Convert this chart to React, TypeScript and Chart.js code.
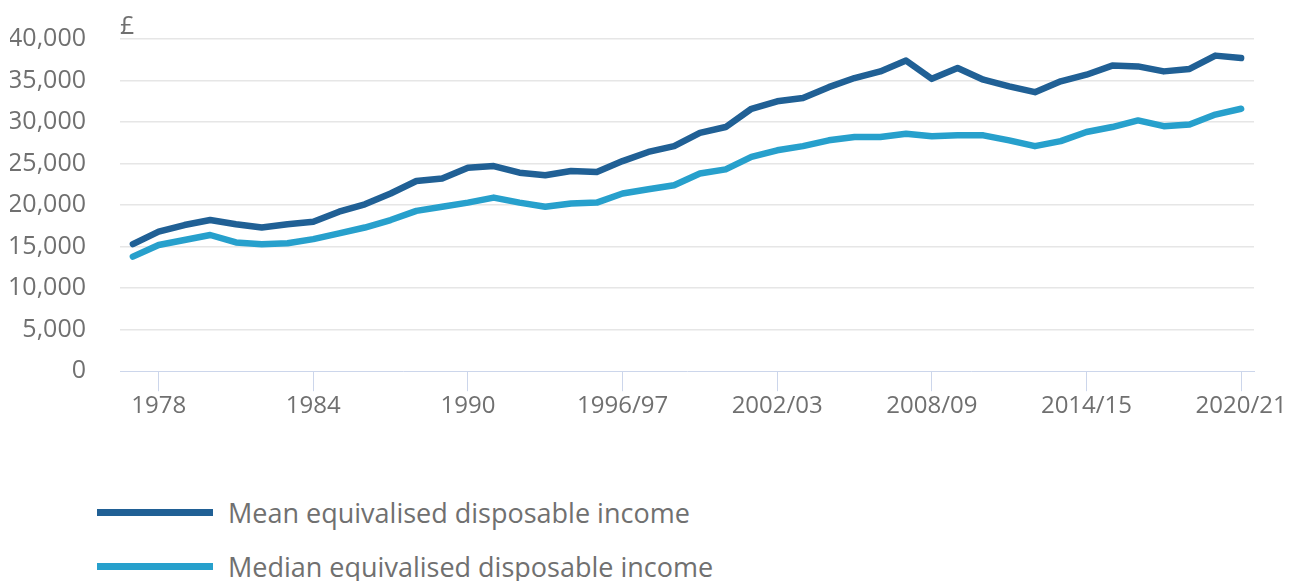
import React, { useEffect, useRef } from "react";
import { Chart, registerables } from "chart.js";

Chart.register(...registerables);

const years: string[] = [
  "1977", "1978", "1979", "1980", "1981", "1982", "1983", "1984", "1985", "1986",
  "1987", "1988", "1989", "1990", "1991", "1992", "1993", "1994/95", "1995/96", "1996/97",
  "1997/98", "1998/99", "1999/00", "2000/01", "2001/02", "2002/03", "2003/04", "2004/05", "2005/06", "2006/07",
  "2007/08", "2008/09", "2009/10", "2010/11", "2011/12", "2012/13", "2013/14", "2014/15", "2015/16", "2016/17",
  "2017/18", "2018/19", "2019/20", "2020/21",
];

const meanIncome: number[] = [
  15300, 16800, 17600, 18200, 17700, 17300, 17700, 18000, 19200, 20100,
  21400, 22900, 23200, 24500, 24700, 23900, 23600, 24100, 24000, 25300,
  26400, 27100, 28700, 29400, 31600, 32500, 32900, 34200, 35300, 36100,
  37400, 35200, 36500, 35100, 34300, 33600, 34900, 35700, 36800, 36700,
  36100, 36400, 38000, 37700,
];

const medianIncome: number[] = [
  13800, 15200, 15800, 16400, 15500, 15300, 15400, 15900, 16600, 17300,
  18200, 19300, 19800, 20300, 20900, 20300, 19800, 20200, 20300, 21400,
  21900, 22400, 23800, 24300, 25800, 26600, 27100, 27800, 28200, 28200,
  28600, 28300, 28400, 28400, 27800, 27100, 27700, 28800, 29400, 30200,
  29500, 29700, 30900, 31600,
];

const shownTicks: string[] = ["1978", "1984", "1990", "1996/97", "2002/03", "2008/09", "2014/15", "2020/21"];

const seriesLabels: string[] = ["Mean equivalised disposable income", "Median equivalised disposable income"];
const seriesColors: string[] = ["#206095", "#27a0cc"];

const FONT = "'Open Sans', sans-serif";
const TEXT = "#707070";

const poundPlugin = {
  id: "poundLabel",
  afterDraw(chart: any) {
    const { ctx, chartArea } = chart;
    ctx.save();
    ctx.font = `25px ${FONT}`;
    ctx.fillStyle = TEXT;
    ctx.textAlign = "left";
    ctx.textBaseline = "alphabetic";
    ctx.fillText("£", chartArea.left, chartArea.top - 5);
    ctx.restore();
  },
};

export default function App() {
  const ref = useRef<HTMLCanvasElement | null>(null);

  useEffect(() => {
    if (!ref.current) return;
    const chart = new Chart(ref.current, {
      type: "line",
      data: {
        labels: years,
        datasets: [
          {
            label: seriesLabels[0],
            data: meanIncome,
            borderColor: seriesColors[0],
            backgroundColor: seriesColors[0],
            borderWidth: 6.5,
            pointRadius: 0,
            tension: 0,
            borderCapStyle: "round",
            borderJoinStyle: "round",
          },
          {
            label: seriesLabels[1],
            data: medianIncome,
            borderColor: seriesColors[1],
            backgroundColor: seriesColors[1],
            borderWidth: 6.5,
            pointRadius: 0,
            tension: 0,
            borderCapStyle: "round",
            borderJoinStyle: "round",
          },
        ],
      },
      options: {
        animation: false,
        responsive: false,
        maintainAspectRatio: false,
        layout: { padding: { top: 31, left: 2, right: 33, bottom: 26 } },
        plugins: {
          legend: { display: false },
          tooltip: { enabled: false },
        },
        scales: {
          x: {
            offset: true,
            grid: {
              display: true,
              drawOnChartArea: false,
              drawTicks: true,
              tickLength: 20,
              color: "#ccd6eb",
              offset: false,
            },
            border: { display: true, color: "#ccd6eb", width: 1 },
            afterFit: (scale: any) => {
              scale.paddingLeft = 0;
              scale.paddingRight = 0;
            },
            ticks: {
              autoSkip: false,
              maxRotation: 0,
              minRotation: 0,
              padding: 1,
              color: TEXT,
              font: { family: FONT, size: 24 },
              callback: function (this: any, value: any) {
                const lab = years[value as number];
                return shownTicks.includes(lab) ? lab : null;
              },
            },
          },
          y: {
            min: 0,
            max: 40000,
            afterFit: (scale: any) => {
              scale.width = 110;
              scale.paddingTop = 0;
            },
            grid: {
              drawTicks: false,
              color: (c: any) => (c.tick && c.tick.value === 0 ? "rgba(0,0,0,0)" : "#e6e6e6"),
              lineWidth: 1.5,
            },
            border: { display: false },
            ticks: {
              stepSize: 5000,
              padding: 34,
              color: TEXT,
              font: { family: FONT, size: 25 },
              callback: (v: any) => Number(v).toLocaleString("en-GB"),
            },
          },
        },
      },
      plugins: [poundPlugin],
    });
    return () => chart.destroy();
  }, []);

  return (
    <div style={{ width: 1279, fontFamily: FONT }}>
      <canvas ref={ref} width={1279} height={440} style={{ display: "block", width: 1279, height: 440 }} />
      <div style={{ marginTop: 37 }}>
        {seriesLabels.map((lab, i) => (
          <div key={lab} style={{ height: 54, display: "flex", alignItems: "center" }}>
            <span
              style={{
                display: "inline-block",
                marginLeft: 89,
                width: 116,
                height: 7,
                background: seriesColors[i],
                marginRight: 15,
              }}
            />
            <span style={{ fontSize: 27, color: TEXT, whiteSpace: "nowrap" }}>{lab}</span>
          </div>
        ))}
      </div>
    </div>
  );
}
